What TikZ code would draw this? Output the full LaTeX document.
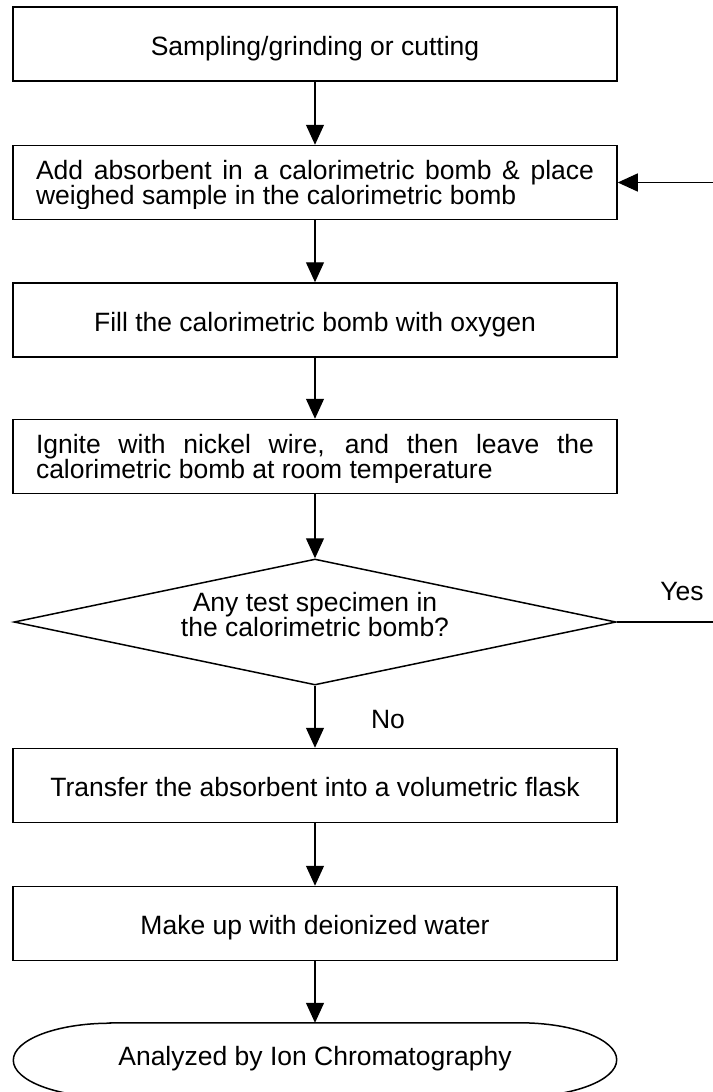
\documentclass[tikz,border=0pt]{standalone}
\usepackage{fontspec}
\setmainfont{Liberation Sans}
\usetikzlibrary{shapes.geometric,arrows.meta}
\tolerance=10000
\hbadness=10000

\begin{document}
\begin{tikzpicture}[x=1pt,y=-1pt]


\tikzset{BoxStyle/.style = {draw, line width=1.5pt, minimum width=604pt, minimum height=74pt,
            inner sep=0pt, text height=22pt, text depth=0pt,
            font=\fontsize{26.5}{25}\selectfont}}
\tikzset{TextStyle/.style = {text width=558pt, inner sep=0pt, align=justify, text height=22pt,
            text depth=28pt, font=\fontsize{26.5}{25}\selectfont}}
\tikzset{TestStyle/.style = {draw, diamond, line width=1.5pt, aspect=4.8, minimum width=602pt,
            minimum height=126pt, inner sep=0pt, align=center, text height=28pt, text depth=0pt,
            font=\fontsize{26.5}{25}\selectfont}}
\tikzset{EndStyle/.style = {minimum width=603pt, minimum height=74pt, inner sep=0pt,
            text height=22pt, text depth=11pt, font=\fontsize{26.5}{25}\selectfont}}
\tikzset{LabelStyle/.style = {inner sep=0pt, font=\fontsize{26.5}{25}\selectfont}}
\tikzset{FlowStyle/.style = {line width=1.2pt, -{Triangle[length=20pt,width=18pt]}}}

\useasboundingbox (0,0) rectangle (712,1092);


\node[BoxStyle]  (s1) at (315,44)    {Sampling/grinding or cutting};
\node[BoxStyle]  (s2) at (315,182.5) {};
\node[BoxStyle]  (s3) at (315,320)   {Fill the calorimetric bomb with oxygen};
\node[BoxStyle]  (s4) at (315,456.5) {};
\node[TestStyle] (q)  at (315,622)   {Any test specimen in\\the calorimetric bomb?};
\node[BoxStyle]  (s5) at (315,785.5) {Transfer the absorbent into a volumetric flask};
\node[BoxStyle]  (s6) at (315,923.5) {Make up with deionized water};
\node[EndStyle]  (s7) at (315,1060)  {Analyzed by Ion Chromatography};

% two-line texts, cut at the frame margin
\begin{scope}
\clip (s2.north west) rectangle ([yshift=12pt]s2.south east);
\node[TextStyle] (t2) at (s2) {Add absorbent in a calorimetric bomb \& place\linebreak weighed sample in the calorimetric bomb};
\end{scope}
\begin{scope}
\clip (s4.north west) rectangle ([yshift=12pt]s4.south east);
\node[TextStyle] (t4) at (s4) {Ignite with nickel wire, and then leave the\linebreak calorimetric bomb at room temperature};
\end{scope}

% terminator outline
\draw[line width=1.5pt] ([xshift=97pt]s7.north west) -- ([xshift=-97pt]s7.north east)
    arc[start angle=90, end angle=-90, x radius=97pt, y radius=37pt]
    -- ([xshift=97pt]s7.south west)
    arc[start angle=270, end angle=90, x radius=97pt, y radius=37pt] -- cycle;

\node[LabelStyle, anchor=base] (yes) at (682,600) {Yes};
\node[LabelStyle, anchor=base] (no)  at (388,728) {No};

\coordinate (back) at (714,622);


\draw[FlowStyle] (s1) -- (s2);
\draw[FlowStyle] (s2) -- (s3);
\draw[FlowStyle] (s3) -- (s4);
\draw[FlowStyle] (s4) -- (q);
\draw[FlowStyle] (q)  -- (s5);
\draw[FlowStyle] (s5) -- (s6);
\draw[FlowStyle] (s6) -- (s7);

\draw[FlowStyle] (q.east) -- (back) |- (s2.east);

\end{tikzpicture}
\end{document}
